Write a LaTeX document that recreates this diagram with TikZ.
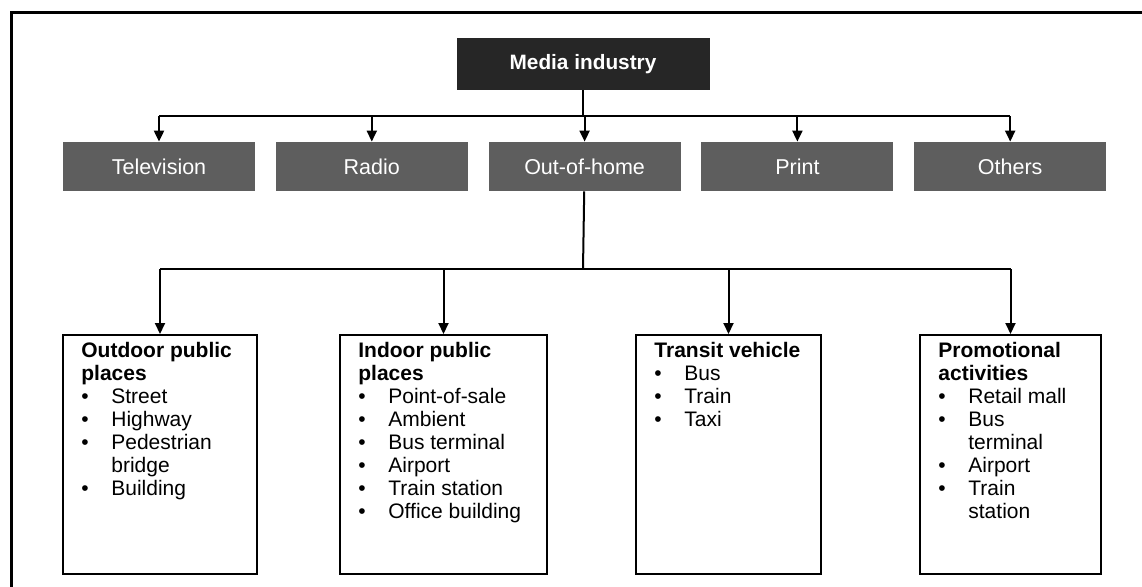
\documentclass[tikz,border=0pt]{standalone}
\usepackage{fontspec}
\setmainfont{Liberation Sans}
\usetikzlibrary{arrows.meta,positioning}
\definecolor{mediafill}{HTML}{262626}
\definecolor{channelfill}{HTML}{5E5E5E}
\newcommand{\bul}{\makebox[15pt][l]{\textbullet}}
\newcommand{\cont}{\hspace*{15pt}}

\begin{document}
\begin{tikzpicture}[x=0.5pt,y=-0.5pt,node distance=10pt,
   media/.style={rectangle,fill=mediafill,text=white,font=\bfseries\fontsize{10.4}{12}\selectfont,
      minimum width=126.5pt,minimum height=26pt,inner sep=0pt},
   channel/.style={rectangle,fill=channelfill,text=white,font=\fontsize{10.75}{12}\selectfont,
      minimum width=96pt,minimum height=24.5pt,inner sep=0pt},
   category/.style={rectangle,draw,line width=1pt,minimum height=119.5pt,inner sep=0pt},
   itemlist/.style={anchor=north west,align=left,inner sep=0pt,
      font=\fontsize{10.5}{11.5}\selectfont,xshift=9.5pt,yshift=-4pt},
   conn/.style={line width=1pt},
   arr/.style={conn,-{Triangle[width=5pt,length=5.5pt]}}]
   \useasboundingbox (0,0) rectangle (1142,586);
   % frame
   \draw[line width=1.5pt] (11,600) -- (11,12) -- (1150,12);

   \node[media] (media) at (583,64) {Media industry};
   \node[channel] (tv) at (159,166.5) {Television};
   \node[channel] (radio) [right=of tv] {Radio};
   \node[channel] (ooh) [right=of radio] {Out-of-home};
   \node[channel] (print) [right=of ooh] {Print};
   \node[channel] (others) [right=of print] {Others};

   \node[category,minimum width=97pt] (outdoor) at (160,454.5) {};
   \node[category,minimum width=103.5pt] (indoor) at (443.5,454.5) {};
   \node[category,minimum width=92.5pt] (transit) at (728.5,454.5) {};
   \node[category,minimum width=90.5pt] (promo) at (1010.5,454.5) {};

   \node[itemlist] (outdoor-list) at (outdoor.north west)
      {\textbf{Outdoor public}\\\textbf{places}\\\bul Street\\\bul Highway\\
       \bul Pedestrian\\\cont bridge\\\bul Building};
   \node[itemlist] (indoor-list) at (indoor.north west)
      {\textbf{Indoor public}\\\textbf{places}\\\bul Point-of-sale\\\bul Ambient\\
       \bul Bus terminal\\\bul Airport\\\bul Train station\\\bul Office building};
   \node[itemlist] (transit-list) at (transit.north west)
      {\textbf{Transit vehicle}\\\bul Bus\\\bul Train\\\bul Taxi};
   \node[itemlist] (promo-list) at (promo.north west)
      {\textbf{Promotional}\\\textbf{activities}\\\bul Retail mall\\\bul Bus\\
       \cont terminal\\\bul Airport\\\bul Train\\\cont station};

   % connectors
   \coordinate (hub1) at (583,116);
   \coordinate (hub2) at (583,269);
   \draw[conn] (media) -- (hub1);
   \draw[conn] (tv.north |- hub1) -- (others.north |- hub1);
   \foreach \n in {tv,radio,ooh,print,others}
      \draw[arr] (\n.north |- hub1) -- (\n);
   \draw[conn] (ooh) -- (hub2);
   \draw[conn] (outdoor.north |- hub2) -- (promo.north |- hub2);
   \foreach \n in {outdoor,indoor,transit,promo}
      \draw[arr] (\n.north |- hub2) -- (\n);
\end{tikzpicture}
\end{document}
